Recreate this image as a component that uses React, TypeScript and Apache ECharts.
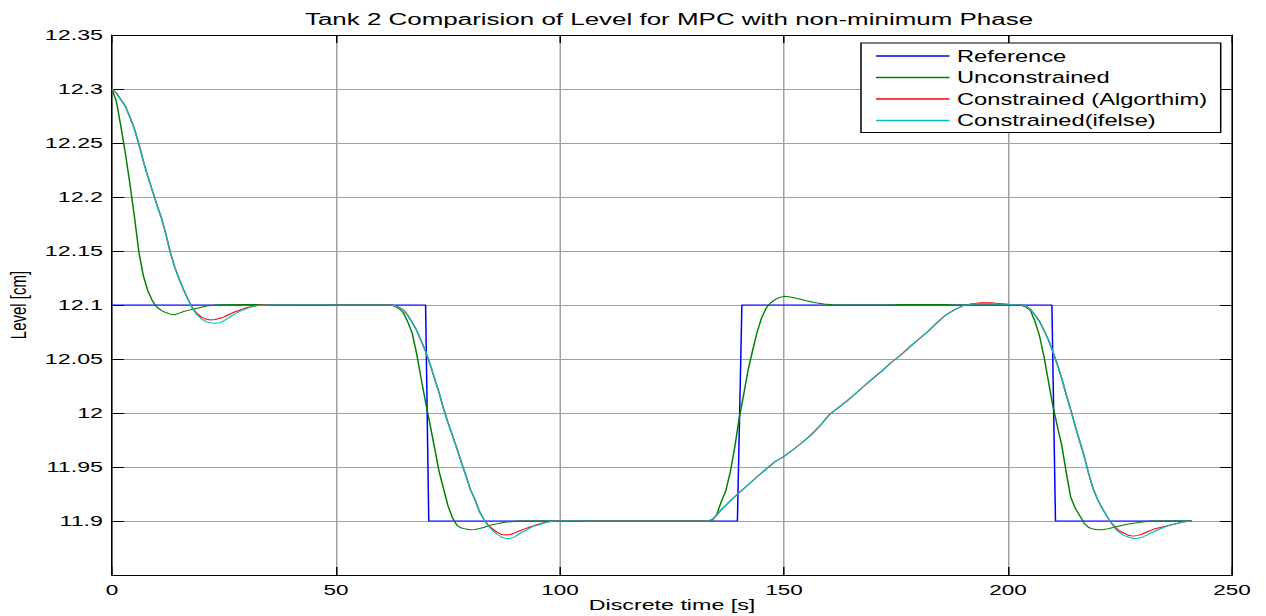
import React, { useEffect, useRef } from "react";
import * as echarts from "echarts";

// ---- data (x = discrete time [s], y = level [cm]) ----
const reference: [number, number][] = [
  [0, 12.1], [70, 12.1], [70.7, 11.9], [139.6, 11.9], [140.6, 12.1],
  [209.8, 12.1], [210.6, 11.9], [241, 11.9],
];

const unconstrained: [number, number][] = [
  [0, 12.3], [1, 12.288], [2, 12.265], [3, 12.24], [4, 12.212], [5, 12.182], [6, 12.149],
  [7, 12.127], [8, 12.113], [9, 12.104], [10, 12.098], [11, 12.095], [12, 12.093],
  [13, 12.0915], [14, 12.091], [15, 12.0925], [16, 12.094], [17, 12.095], [18, 12.096],
  [19, 12.097], [20, 12.098], [21, 12.099], [22, 12.0995], [24, 12.1003], [30, 12.1005],
  [40, 12.1003], [50, 12.1], [62, 12.1],
  [63, 12.099], [64, 12.097], [65, 12.093], [66, 12.0845], [67, 12.074], [68, 12.055],
  [69, 12.032], [70, 12.01], [71, 11.989], [72, 11.968], [73, 11.946], [74, 11.93],
  [75, 11.914], [76, 11.903], [77, 11.896], [78, 11.8935], [79, 11.8925], [80, 11.892],
  [81, 11.8922], [82, 11.893], [83, 11.894], [84, 11.8955], [85, 11.8968], [86, 11.8975],
  [88, 11.899], [91, 11.9], [100, 11.9], [133, 11.9],
  [134, 11.901], [135, 11.906], [136, 11.918], [137, 11.928], [138, 11.945], [139, 11.968],
  [140, 11.995], [141, 12.017], [142, 12.04], [143, 12.058], [144, 12.075], [145, 12.088],
  [146, 12.097], [147, 12.102], [148, 12.105], [149, 12.107], [150, 12.108], [151, 12.1077],
  [152, 12.107], [153, 12.106], [155, 12.104], [157, 12.102], [159, 12.101], [161, 12.1003],
  [165, 12.1], [174, 12.1], [176, 12.1005], [186, 12.1005], [188, 12.1], [202, 12.1],
  [203, 12.0995], [204, 12.098], [205, 12.095], [206, 12.085], [207, 12.072], [208, 12.053],
  [209, 12.03], [210, 12.007], [211, 11.988], [212, 11.97], [213, 11.945], [214, 11.922],
  [215, 11.912], [216, 11.905], [217, 11.898], [218, 11.894], [219, 11.8925], [220, 11.892],
  [221, 11.892], [222, 11.8925], [223, 11.8935], [224, 11.8945], [226, 11.8965], [228, 11.898],
  [230, 11.899], [232, 11.9], [241, 11.9],
];

const constrainedAlgorithm: [number, number][] = [
  [0, 12.3], [1, 12.296], [2, 12.29], [3, 12.284], [4, 12.274], [5, 12.263], [6, 12.249],
  [7, 12.233], [8, 12.219], [9, 12.206], [10, 12.193], [11, 12.181], [12, 12.166],
  [13, 12.149], [14, 12.135], [15, 12.124], [16, 12.114], [17, 12.105], [18, 12.097],
  [19, 12.092], [20, 12.0885], [21, 12.087], [22, 12.0862], [23, 12.0865], [24, 12.0875],
  [25, 12.089], [26, 12.091], [27, 12.093], [28, 12.0945], [29, 12.096], [30, 12.0975],
  [31, 12.0985], [32, 12.0993], [33, 12.1], [35, 12.1005], [48, 12.1005], [50, 12.1], [62, 12.1],
  [63, 12.0995], [64, 12.098], [65, 12.0955], [66, 12.0905], [67, 12.084], [68, 12.0765],
  [69, 12.067], [70, 12.057], [71, 12.045], [72, 12.032], [73, 12.019], [74, 12.004],
  [75, 11.991], [76, 11.979], [77, 11.967], [78, 11.954], [79, 11.942], [80, 11.929],
  [81, 11.92], [82, 11.909], [83, 11.9015], [84, 11.896], [85, 11.8925], [86, 11.8895],
  [87, 11.8875], [88, 11.887], [89, 11.8875], [90, 11.8893], [91, 11.891], [92, 11.8925],
  [93, 11.894], [94, 11.8955], [95, 11.8968], [96, 11.898], [97, 11.899], [98, 11.8995],
  [99, 11.9], [101, 11.9005], [104, 11.9005], [106, 11.9], [133, 11.9],
  [134, 11.9015], [135, 11.9055], [136, 11.9105], [137, 11.9145], [138, 11.9185],
  [139, 11.9225], [140, 11.9263], [142, 11.9335], [144, 11.941], [146, 11.948], [148, 11.955],
  [150, 11.9598], [152, 11.966], [154, 11.9725], [156, 11.9795], [158, 11.988], [160, 11.998],
  [162, 12.0045], [164, 12.011], [166, 12.018], [168, 12.0255], [170, 12.0325], [172, 12.0395],
  [174, 12.047], [176, 12.0535], [178, 12.061], [180, 12.068], [182, 12.075], [184, 12.083],
  [186, 12.0905], [188, 12.0955], [190, 12.0995], [192, 12.1012], [194, 12.102], [196, 12.102],
  [198, 12.1015], [200, 12.1008], [202, 12.1003],
  [203, 12.1], [204, 12.099], [205, 12.096], [206, 12.091], [207, 12.085], [208, 12.077],
  [209, 12.068], [210, 12.057], [211, 12.045], [212, 12.032], [213, 12.017], [214, 12.003],
  [215, 11.988], [216, 11.974], [217, 11.96], [218, 11.944], [219, 11.93], [220, 11.92],
  [221, 11.912], [222, 11.905], [223, 11.8985], [224, 11.894], [225, 11.8905], [226, 11.8885],
  [227, 11.8865], [228, 11.886], [229, 11.8867], [230, 11.888], [231, 11.8898], [232, 11.8915],
  [233, 11.893], [234, 11.894], [235, 11.895], [236, 11.896], [237, 11.897], [238, 11.898],
  [239, 11.899], [240, 11.8995], [241, 11.9],
];

const constrainedIfElse: [number, number][] = [
  [0, 12.3], [1, 12.296], [2, 12.29], [3, 12.284], [4, 12.274], [5, 12.263], [6, 12.249],
  [7, 12.233], [8, 12.219], [9, 12.206], [10, 12.193], [11, 12.181], [12, 12.166],
  [13, 12.149], [14, 12.135], [15, 12.124], [16, 12.114], [17, 12.105], [18, 12.0965],
  [19, 12.091], [20, 12.087], [21, 12.0845], [22, 12.0835], [23, 12.083], [24, 12.0835],
  [25, 12.0855], [26, 12.088], [27, 12.0908], [28, 12.093], [29, 12.095], [30, 12.0965],
  [31, 12.098], [32, 12.099], [33, 12.0997], [34, 12.1], [36, 12.1003], [48, 12.1003],
  [50, 12.1], [62, 12.1],
  [63, 12.0995], [64, 12.098], [65, 12.0955], [66, 12.0905], [67, 12.084], [68, 12.0765],
  [69, 12.067], [70, 12.057], [71, 12.045], [72, 12.032], [73, 12.019], [74, 12.004],
  [75, 11.991], [76, 11.979], [77, 11.967], [78, 11.954], [79, 11.942], [80, 11.929],
  [81, 11.92], [82, 11.909], [83, 11.9015], [84, 11.8955], [85, 11.891], [86, 11.8875],
  [87, 11.885], [88, 11.8837], [89, 11.884], [90, 11.8855], [91, 11.8885], [92, 11.8905],
  [93, 11.8928], [94, 11.895], [95, 11.896], [96, 11.8975], [97, 11.8988], [98, 11.8995],
  [99, 11.9], [101, 11.9003], [104, 11.9003], [106, 11.9], [133, 11.9],
  [134, 11.9015], [135, 11.9055], [136, 11.9105], [137, 11.9145], [138, 11.9185],
  [139, 11.9225], [140, 11.9263], [142, 11.9335], [144, 11.941], [146, 11.948], [148, 11.955],
  [150, 11.9598], [152, 11.966], [154, 11.9725], [156, 11.9795], [158, 11.988], [160, 11.998],
  [162, 12.0045], [164, 12.011], [166, 12.018], [168, 12.0255], [170, 12.0325], [172, 12.0395],
  [174, 12.047], [176, 12.0535], [178, 12.061], [180, 12.068], [182, 12.075], [184, 12.083],
  [186, 12.0905], [188, 12.0955], [190, 12.0995], [192, 12.101], [194, 12.1015], [196, 12.1015],
  [198, 12.101], [200, 12.1006], [202, 12.1002],
  [203, 12.1], [204, 12.099], [205, 12.096], [206, 12.091], [207, 12.085], [208, 12.077],
  [209, 12.068], [210, 12.057], [211, 12.045], [212, 12.032], [213, 12.017], [214, 12.003],
  [215, 11.988], [216, 11.974], [217, 11.96], [218, 11.944], [219, 11.93], [220, 11.92],
  [221, 11.912], [222, 11.905], [223, 11.8985], [224, 11.8925], [225, 11.889], [226, 11.8865],
  [227, 11.885], [228, 11.8838], [229, 11.884], [230, 11.885], [231, 11.887], [232, 11.889],
  [233, 11.891], [234, 11.8928], [235, 11.8943], [236, 11.8958], [237, 11.897], [238, 11.898],
  [239, 11.899], [240, 11.8995], [241, 11.9],
];

const seriesNames = [
  "Reference",
  "Unconstrained",
  "Constrained (Algorthim)",
  "Constrained(ifelse)",
];
const seriesColors = ["#0000ff", "#008000", "#ff0000", "#00bfbf"];

const X_MIN = 0, X_MAX = 250, X_STEP = 50;
const Y_MIN = 11.85, Y_MAX = 12.35, Y_STEP = 0.05;

const FONT = "'Liberation Sans', Arial, Helvetica, sans-serif";

export default function App() {
  const ref = useRef<HTMLDivElement>(null);

  useEffect(() => {
    if (!ref.current) return;
    const chart = echarts.init(ref.current, undefined, { renderer: "svg" });
    const datasets = [reference, unconstrained, constrainedAlgorithm, constrainedIfElse];

    const yLabel = (v: number) => (v < Y_MIN + Y_STEP / 2 ? "" : String(+v.toFixed(2)));

    chart.setOption({
      animation: false,
      backgroundColor: "#ffffff",
      color: seriesColors,
      textStyle: { fontFamily: FONT },
      title: {
        text: "Tank 2 Comparision of Level for MPC with non-minimum Phase",
        left: 446,
        textAlign: "center",
        top: 11,
        padding: 0,
        textStyle: { fontSize: 17.3, fontWeight: "normal", color: "#000", fontFamily: FONT },
      },
      legend: {
        orient: "vertical",
        left: 574,
        top: 43,
        padding: [5, 9, 4, 10],
        itemGap: 5.5,
        itemWidth: 49,
        itemHeight: 1.6,
        icon: "rect",
        itemStyle: { borderWidth: 0 },
        backgroundColor: "#ffffff",
        borderColor: "#000000",
        borderWidth: 1,
        textStyle: { fontSize: 15.8, color: "#000", fontFamily: FONT },
        data: seriesNames,
      },
      grid: {
        left: 74.67,
        right: 22.67,
        top: 35,
        bottom: 41,
        containLabel: false,
        outerBoundsMode: "none",
      },
      xAxis: [
        {
          type: "value",
          min: X_MIN,
          max: X_MAX,
          interval: X_STEP,
          name: "Discrete time [s]",
          nameLocation: "middle",
          nameGap: 21,
          nameMoveOverlap: false,
          nameTextStyle: {
            fontSize: 15.5,
            color: "#000",
            fontFamily: FONT,
            verticalAlign: "top",
            lineHeight: 17,
          },
          axisLine: { show: true, onZero: false, lineStyle: { color: "#000", width: 1 } },
          axisTick: { show: true, inside: true, length: 8, lineStyle: { color: "#000" } },
          axisLabel: { fontSize: 15, color: "#000", margin: 7, fontFamily: FONT },
          splitLine: { show: true, lineStyle: { color: "#a0a0a0", width: 1 } },
        },
        {
          type: "value",
          position: "top",
          min: X_MIN,
          max: X_MAX,
          interval: X_STEP,
          axisLine: { show: true, onZero: false, lineStyle: { color: "#000", width: 1 } },
          axisTick: { show: true, inside: true, length: 8, lineStyle: { color: "#000" } },
          axisLabel: { show: false },
          splitLine: { show: false },
        },
      ],
      yAxis: [
        {
          type: "value",
          min: Y_MIN,
          max: Y_MAX,
          interval: Y_STEP,
          name: "Level [cm]",
          nameLocation: "middle",
          nameRotate: 90,
          nameGap: 55,
          nameMoveOverlap: false,
          nameTextStyle: { fontSize: 15, color: "#000", fontFamily: FONT },
          axisLine: { show: true, onZero: false, lineStyle: { color: "#000", width: 1 } },
          axisTick: { show: true, inside: true, length: 8, lineStyle: { color: "#000" } },
          axisLabel: { fontSize: 15.5, color: "#000", margin: 6, formatter: yLabel, fontFamily: FONT },
          splitLine: { show: true, lineStyle: { color: "#a0a0a0", width: 1 } },
        },
        {
          type: "value",
          position: "right",
          min: Y_MIN,
          max: Y_MAX,
          interval: Y_STEP,
          axisLine: { show: true, onZero: false, lineStyle: { color: "#000", width: 1 } },
          axisTick: { show: true, inside: true, length: 8, lineStyle: { color: "#000" } },
          axisLabel: { show: false },
          splitLine: { show: false },
        },
      ],
      series: seriesNames.map((name, i) => ({
        name,
        type: "line",
        xAxisIndex: 0,
        yAxisIndex: 0,
        data: datasets[i],
        symbol: "none",
        showSymbol: false,
        smooth: false,
        clip: false,
        itemStyle: { color: seriesColors[i] },
        lineStyle: { color: seriesColors[i], width: 1 },
        z: 2 + i,
      })),
    });

    return () => chart.dispose();
  }, []);

  return (
    <div
      ref={ref}
      style={{
        position: "fixed",
        left: 0,
        top: 0,
        width: 844,
        height: 616,
        transform: "scaleX(1.5)",
        transformOrigin: "0 0",
        background: "#fff",
      }}
    />
  );
}
